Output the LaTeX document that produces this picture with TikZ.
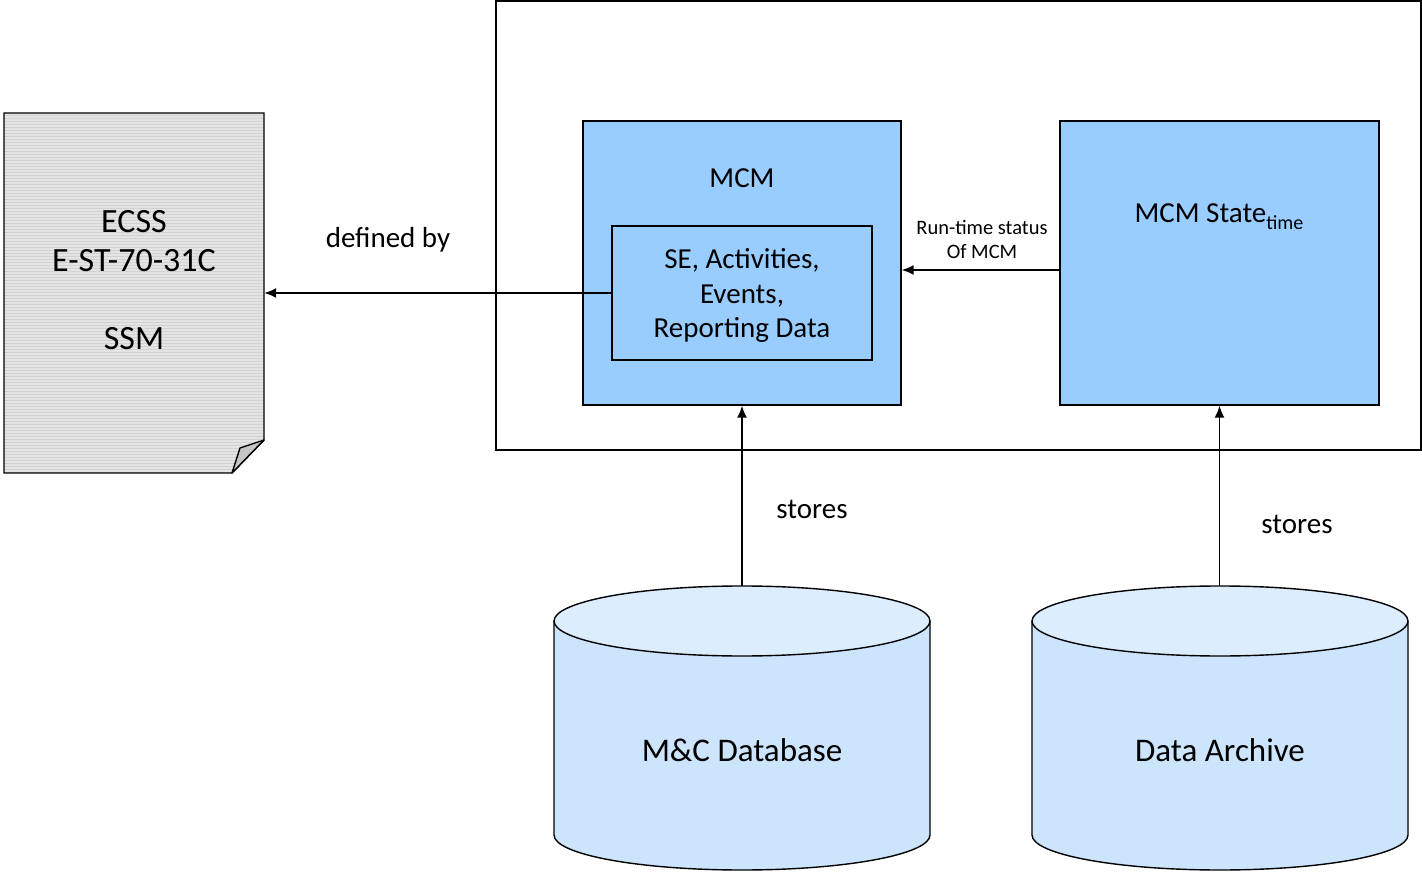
\documentclass[tikz,border=0pt]{standalone}
\usepackage{fontspec}
\setmainfont{Carlito}
\usetikzlibrary{arrows.meta}
\definecolor{mcmblue}{HTML}{99CCFF}
\definecolor{cylbody}{HTML}{CCE4FC}
\definecolor{cyltop}{HTML}{DCEDFE}
\definecolor{docfill}{HTML}{E4E4E4}
\definecolor{docline}{HTML}{D2D2D2}
\definecolor{flapfill}{HTML}{C6C6C6}
\tikzset{
  big/.style={font=\fontsize{29}{35}\selectfont},
  small/.style={font=\fontsize{20}{24}\selectfont},
  bluebox/.style={draw=black, line width=1.4pt, fill=mcmblue, inner sep=0pt},
  ghost/.style={draw=none, inner sep=0pt},
  conn/.style={line width=1.6pt, -{Latex[length=12pt,width=10pt]}},
  outline/.style={draw=black, line width=1.4pt},
}
\begin{document}
\begin{tikzpicture}[x=1pt,y=-1pt]
\useasboundingbox (0,0) rectangle (1422,874);
% outer frame
\node[draw=black, line width=1.4pt, minimum width=925pt, minimum height=449pt, inner sep=0pt] (frame) at (958.5,225.5) {};
% MCM box
\node[bluebox, minimum width=318pt, minimum height=284pt] (mcm) at (742,263) {};
\node[big, ghost] (mcmlabel) at (742,178) {MCM};
\node[bluebox, minimum width=260pt, minimum height=134pt] (se) at (742,293) {};
\node[ghost, align=center, font=\fontsize{29}{34.5}\selectfont] (setext) at (742,295.5) {SE, Activities,\\Events,\\Reporting Data};
% MCM state box
\node[bluebox, minimum width=319pt, minimum height=284pt] (state) at (1219.5,263) {};
\node[big, ghost] (statelabel) at (1219,217) {MCM State\raisebox{-7pt}{\fontsize{20}{24}\selectfont time}};
% document
\node[ghost, minimum width=260pt, minimum height=360pt] (doc) at (134,293) {};
\begin{scope}
  \fill[docfill] (4,113) -- (264,113) -- (264,440) -- (232,473) -- (4,473) -- cycle;
  \clip (4,113) -- (264,113) -- (264,440) -- (232,473) -- (4,473) -- cycle;
  \foreach \yy in {115,118,...,473} \draw[docline, line width=0.8pt] (4,\yy) -- (264,\yy);
\end{scope}
\draw[outline] (4,113) -- (264,113) -- (264,440) -- (232,473) -- (4,473) -- cycle;
\draw[outline, fill=flapfill, line join=round] (232,473) -- (240,448) -- (264,440) -- cycle;
\node[ghost, align=center, font=\fontsize{34}{39}\selectfont] (doctext) at (134,280) {ECSS\\E-ST-70-31C\\[39pt]SSM};
% cylinders
\node[ghost, minimum width=376pt, minimum height=284pt] (mcdb) at (742,728) {};
\fill[cylbody] (554,621) -- (554,835) arc[start angle=180, end angle=360, x radius=188pt, y radius=35pt] -- (930,621) -- cycle;
\draw[outline] (554,621) -- (554,835) arc[start angle=180, end angle=360, x radius=188pt, y radius=35pt] -- (930,621);
\draw[outline, fill=cyltop] (742,621) ellipse[x radius=188pt, y radius=35pt];
\node[ghost, font=\fontsize{33}{39}\selectfont] (mcdblabel) at (742,750) {M\&C Database};
\node[ghost, minimum width=376pt, minimum height=284pt] (arch) at (1220,728) {};
\fill[cylbody] (1032,621) -- (1032,835) arc[start angle=180, end angle=360, x radius=188pt, y radius=35pt] -- (1408,621) -- cycle;
\draw[outline] (1032,621) -- (1032,835) arc[start angle=180, end angle=360, x radius=188pt, y radius=35pt] -- (1408,621);
\draw[outline, fill=cyltop] (1220,621) ellipse[x radius=188pt, y radius=35pt];
\node[ghost, font=\fontsize{33}{39}\selectfont] (archlabel) at (1220,750) {Data Archive};
% connectors
\draw[conn] (se.west) -- (doc.east);
\node[big, ghost] (deflabel) at (388,240) {defined by};
\draw[conn] (state.west |- 0,270) -- (mcm.east |- 0,270);
\node[small, ghost, align=center, font=\fontsize{20.5}{24}\selectfont] (rtlabel) at (982,239) {Run-time status\\Of MCM};
\draw[conn] (mcdb.north) -- (mcm.south);
\node[big, ghost] (st1) at (812,509) {stores};
\draw[conn] (arch.north -| state.south) -- (state.south);
\node[big, ghost] (st2) at (1297,524) {stores};
\end{tikzpicture}
\end{document}
